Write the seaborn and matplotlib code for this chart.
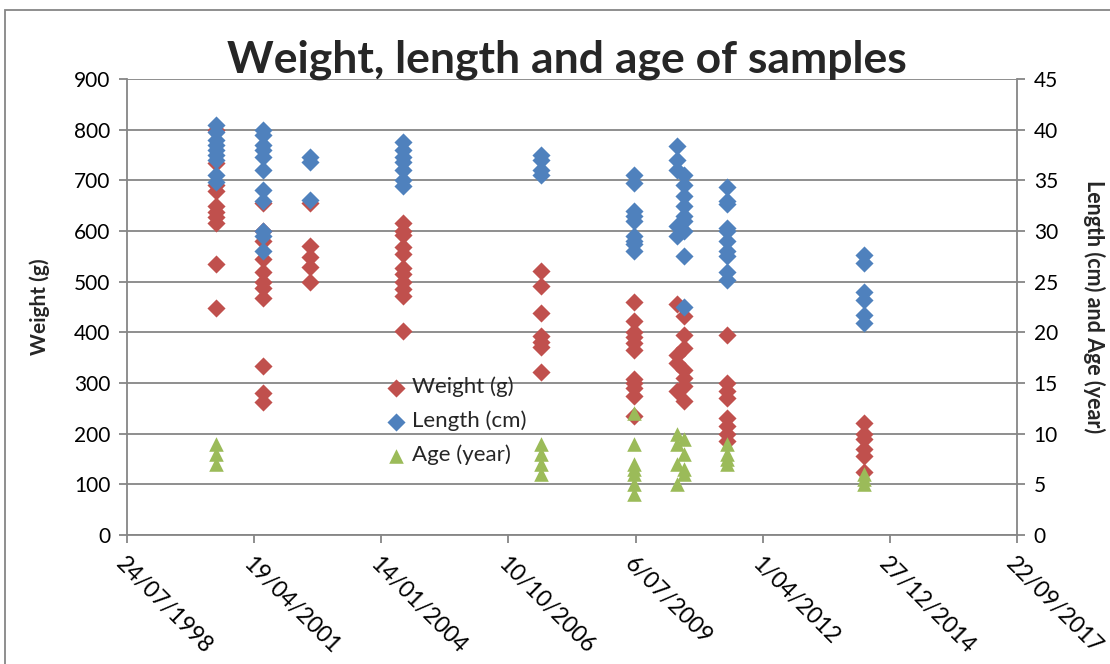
import matplotlib
matplotlib.use("Agg")
import matplotlib.pyplot as plt
import matplotlib.dates as mdates
from matplotlib.patches import Rectangle
from matplotlib.ticker import FixedLocator, FuncFormatter, MultipleLocator
import numpy as np
import pandas as pd
import seaborn as sns

# Sampling dates (one campaign per year, two trips in 2010)
sample_dates = {
    "d1": "2000-06-23", "d2": "2001-06-28", "d3": "2002-07-03",
    "d4": "2004-07-05", "d5": "2007-06-26", "d6": "2009-06-27",
    "d7a": "2010-05-31", "d7b": "2010-07-22", "d8": "2011-06-23",
    "d9": "2014-06-04",
}

# Weight (g) per sampling date
weight_g = {
    "d1": [800, 735, 690, 678, 650, 638, 628, 615, 535, 448],
    "d2": [655, 600, 580, 545, 520, 500, 488, 468, 333, 280, 262],
    "d3": [655, 570, 548, 528, 500],
    "d4": [615, 600, 592, 568, 555, 527, 515, 500, 485, 472, 403],
    "d5": [522, 492, 438, 393, 380, 372, 322],
    "d6": [460, 422, 400, 390, 378, 365, 308, 300, 290, 275, 235],
    "d7a": [455, 355, 340, 285],
    "d7b": [432, 395, 370, 325, 310, 295, 265],
    "d8": [395, 300, 285, 270, 230, 215, 200, 185],
    "d9": [222, 200, 190, 170, 155, 125],
}

# Length (cm) per sampling date
length_cm = {
    "d1": [40.5, 39.8, 39, 38.5, 38, 37.5, 37, 35.5, 34.8],
    "d2": [40, 39.5, 38.5, 38, 37.3, 36, 34, 33, 30, 29.5, 28],
    "d3": [37.3, 36.8, 33.1],
    "d4": [38.8, 38, 37.3, 36.8, 36, 35, 34.4],
    "d5": [37.5, 37, 36, 35.5],
    "d6": [35.5, 34.7, 32, 31.5, 31, 29.5, 29, 28.7, 28],
    "d7a": [38.4, 37, 36, 30.5, 29.5],
    "d7b": [35.5, 34.5, 33.5, 32.5, 31.5, 31, 30, 27.5, 22.5],
    "d8": [34.3, 33, 32.7, 30.3, 30, 29, 28, 27.5, 26, 25.2],
    "d9": [27.6, 26.8, 24, 23.2, 21.7, 20.9],
}

# Age (year) per sampling date
age_year = {
    "d1": [9, 8, 7],
    "d5": [9, 8, 7, 6],
    "d6": [12, 9, 7, 6.5, 6, 5, 4],
    "d7a": [10, 9, 7, 5],
    "d7b": [9.5, 8, 6.5, 6],
    "d8": [9, 8, 7.5, 7],
    "d9": [6, 5.5, 5],
}

axis_start = "1998-07-24"
axis_end = "2017-09-22"
tick_step_days = 1000


def to_frame(series):
    rows = [(pd.Timestamp(sample_dates[k]), v) for k, vals in series.items() for v in vals]
    return pd.DataFrame(rows, columns=["date", "value"])


df_w = to_frame(weight_g)
df_l = to_frame(length_cm)
df_a = to_frame(age_year)

sns.set_theme(style="white")
plt.rcParams["font.family"] = ["Lato", "DejaVu Sans"]

RED = "#C0504D"
BLUE = "#4F81BD"
GREEN = "#9BBB59"
GRID = "#868686"

fig = plt.figure(figsize=(11.1, 6.64), dpi=100)
ax = fig.add_axes([127 / 1110, 1 - 535 / 664, (1017 - 127) / 1110, (535 - 79) / 664])
ax2 = ax.twinx()

sns.scatterplot(data=df_w, x="date", y="value", ax=ax, marker="D", s=85,
                color=RED, linewidth=0, label="Weight (g)", legend=False, zorder=3)
sns.scatterplot(data=df_l, x="date", y="value", ax=ax2, marker="D", s=85,
                color=BLUE, linewidth=0, label="Length (cm)", legend=False, zorder=3)
sns.scatterplot(data=df_a, x="date", y="value", ax=ax2, marker="^", s=110,
                color=GREEN, linewidth=0, label="Age (year)", legend=False, zorder=4)

# Axes limits and ticks
start = pd.Timestamp(axis_start)
end = pd.Timestamp(axis_end)
ticks = pd.date_range(start, end, freq=f"{tick_step_days}D")
ax.set_xlim(mdates.date2num(start), mdates.date2num(end))
ax.xaxis.set_major_locator(FixedLocator(mdates.date2num(ticks)))
ax.xaxis.set_major_formatter(FuncFormatter(
    lambda v, p: (lambda d: f"{d.day}/{d.month:02d}/{d.year}")(mdates.num2date(v))))

ax.set_ylim(0, 900)
ax.yaxis.set_major_locator(MultipleLocator(100))
ax2.set_ylim(0, 45)
ax2.yaxis.set_major_locator(MultipleLocator(5))

ax.grid(axis="y", color=GRID, linewidth=1.3)
ax.grid(axis="x", visible=False)
ax2.grid(False)
ax.set_axisbelow(True)

for a in (ax, ax2):
    a.spines["top"].set_visible(False)
    for s in ("left", "right", "bottom"):
        a.spines[s].set_color(GRID)
        a.spines[s].set_linewidth(1.3)
    a.set_facecolor("none")
ax.spines["right"].set_visible(False)
ax2.spines["left"].set_visible(False)
ax2.spines["bottom"].set_visible(False)

ax.tick_params(axis="y", which="major", left=True, length=6, width=1.3, color=GRID,
               labelsize=15, pad=6, labelcolor="black")
ax.tick_params(axis="x", which="major", bottom=True, length=6, width=1.3, color=GRID,
               labelsize=16.5, pad=7, labelcolor="black")
ax2.tick_params(axis="y", which="major", right=True, length=6, width=1.3, color=GRID,
                labelsize=15, pad=6, labelcolor="black")

for lbl in ax.get_xticklabels():
    lbl.set_rotation(-45)
    lbl.set_ha("left")
    lbl.set_va("top")
    lbl.set_rotation_mode("anchor")

ax.set_xlabel("")
ax.set_ylabel("Weight (g)", fontsize=15, fontweight="bold", labelpad=17)
ax2.set_ylabel("Length (cm) and Age (year)", fontsize=15.5, fontweight="bold",
               rotation=-90, labelpad=34)

# Legend gathering all three series
handles = ax.collections[:1] + ax2.collections[:2]
labels = ["Weight (g)", "Length (cm)", "Age (year)"]
fig.legend(handles, labels, loc="upper left",
           bbox_to_anchor=(374 / 1110, 1 - 368 / 664), frameon=False,
           fontsize=16, labelspacing=0.6, handletextpad=0.1, handlelength=1.2,
           borderaxespad=0)

fig.text(567 / 1110, 1 - 60 / 664, "Weight, length and age of samples",
         ha="center", va="center", fontsize=32, fontweight="bold")

# Chart-area frame
fig.patches.append(Rectangle((5 / 1110, -0.1), 1.2, 1.1 - 10 / 664,
                             transform=fig.transFigure, fill=False,
                             edgecolor=GRID, linewidth=1.3, zorder=0))

fig.savefig("out.png", dpi=100)
